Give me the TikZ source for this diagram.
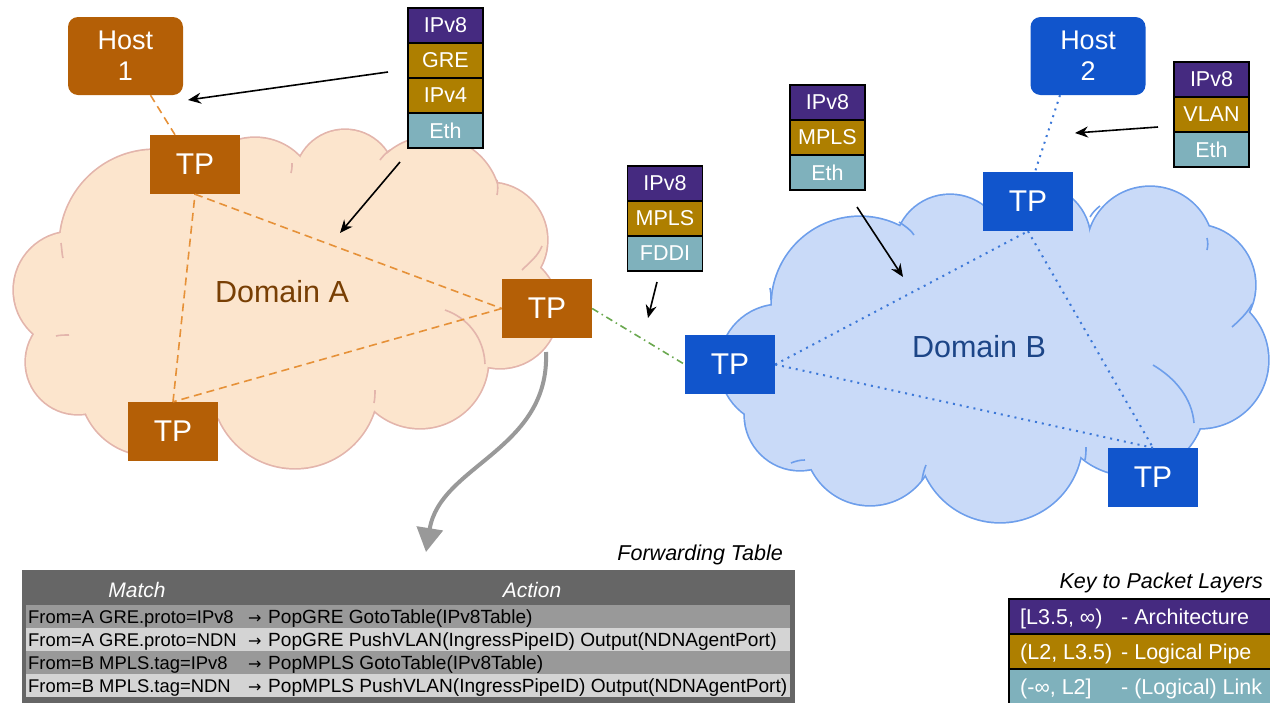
\documentclass[tikz,border=0pt]{standalone}
\usepackage{fontspec}
\setmainfont{Liberation Sans}
\newfontfamily\symfont{DejaVu Sans}
\usetikzlibrary{arrows.meta}
\definecolor{tpA}{HTML}{B45F06}
\definecolor{tpB}{HTML}{1155CC}
\definecolor{cloudAfill}{HTML}{FCE5CD}
\definecolor{cloudAline}{HTML}{E3B5AC}
\definecolor{cloudBfill}{HTML}{C9DAF8}
\definecolor{cloudBline}{HTML}{6D9EEB}
\definecolor{lnA}{HTML}{E69138}
\definecolor{lnB}{HTML}{3C78D8}
\definecolor{lnG}{HTML}{6AA84F}
\definecolor{domA}{HTML}{783F04}
\definecolor{domB}{HTML}{1C4587}
\definecolor{purp}{HTML}{452A80}
\definecolor{gold}{HTML}{AE7F00}
\definecolor{teal}{HTML}{7FB1BC}
\definecolor{tblDark}{HTML}{666666}
\definecolor{tblMid}{HTML}{999999}
\definecolor{tblLight}{HTML}{D4D4D4}
\newcommand\pxfont[1]{\fontsize{#1}{#1}\selectfont}
\def\puffsA{72/290/58, 78/362/52, 155/245/95, 255/200/62, 345/180/50, 432/205/68, 490/240/57, 500/310/58, 420/360/68, 295/385/83, 150/385/70, 290/290/130, 200/320/100, 400/280/100}
\def\puffsB{780/365/60, 800/415/55, 870/440/65, 1000/440/82, 1130/400/75, 1200/360/68, 1195/285/60, 1150/250/63, 1035/240/55, 950/250/55, 860/305/88, 1000/350/130, 900/380/90, 1100/350/100}
\begin{document}
\begin{tikzpicture}[x=1pt,y=-1pt,
  tpa/.style={fill=tpA, text=white, minimum width=90, minimum height=59, inner sep=0, font=\pxfont{30}},
  tpb/.style={tpa, fill=tpB},
  hostbox/.style={rounded corners=10, minimum width=115, minimum height=78, inner sep=0, text=white, align=center, font=\fontsize{27}{31}\selectfont},
  cell/.style={draw=black, line width=1.5, minimum width=75, minimum height=35, inner sep=0, text=white, font=\pxfont{21.5}},
  dA/.style={lnA, line width=1.6, dash pattern=on 8pt off 5pt},
  dB/.style={lnB, line width=2, dash pattern=on 2pt off 5pt},
  dG/.style={lnG, line width=1.6, dash pattern=on 7pt off 4pt on 1.5pt off 4pt},
  ptr/.style={black, line width=1.6, -{Stealth[length=13pt,width=11pt]}},
  domlabel/.style={font=\pxfont{30.5}},
  innerA/.style={cloudAline, line width=1.6},
  innerB/.style={cloudBline, line width=1.6},
  matchtxt/.style={anchor=base west, inner sep=0, font=\pxfont{18.4}},
  acttxt/.style={anchor=base west, inner sep=0, font=\pxfont{19.1}},
  arrtxt/.style={anchor=base west, inner sep=0, font=\symfont\pxfont{16}},
  keytxt/.style={anchor=base west, inner sep=0, text=white, font=\pxfont{21.5}},
  keyrow/.style={draw=black, line width=2.2}
]
\useasboundingbox (0,0) rectangle (1270,702);
% clouds
\foreach \x/\y/\r in \puffsA { \draw[cloudAline, line width=3.4] (\x,\y) circle[radius=\r pt]; }
\foreach \x/\y/\r in \puffsA { \fill[cloudAfill] (\x,\y) circle[radius=\r pt]; }
\foreach \x/\y/\r in \puffsB { \draw[cloudBline, line width=3.4] (\x,\y) circle[radius=\r pt]; }
\foreach \x/\y/\r in \puffsB { \fill[cloudBfill] (\x,\y) circle[radius=\r pt]; }
% inner puff arcs
\draw[innerA] (445,310) .. controls (468,318) and (484,338) .. (485,364);
\draw[innerA] (522,270) .. controls (530,262) and (538,256) .. (542,246);
\draw[innerA] (497,180) .. controls (498,186) and (498,190) .. (497,195);
\draw[innerA] (380,160) .. controls (383,156) and (386,153) .. (390,150);
\draw[innerA] (292,163) .. controls (292,168) and (292,170) .. (291,173);
\draw[innerA] (61,243) .. controls (62,250) and (62,255) .. (63,258);
\draw[innerA] (69,335) .. controls (64,335) and (60,335) .. (56,336);
\draw[innerA] (374,403) .. controls (375,398) and (375,394) .. (375,390);
\draw[innerB] (1153,365) .. controls (1175,378) and (1192,398) .. (1194,423);
\draw[innerB] (1232,327) .. controls (1240,320) and (1248,312) .. (1252,304);
\draw[innerB] (1207,238) .. controls (1208,242) and (1208,246) .. (1207,250);
\draw[innerB] (1090,217) .. controls (1093,212) and (1096,209) .. (1100,206);
\draw[innerB] (914,235) .. controls (911,230) and (905,226) .. (899,222);
\draw[innerB] (771,300) .. controls (771,295) and (771,292) .. (770,288);
\draw[innerB] (805,460) .. controls (800,460) and (796,461) .. (791,463);
\draw[innerB] (922,480) .. controls (923,474) and (924,470) .. (926,465);
\draw[innerB] (1085,460) .. controls (1086,455) and (1086,451) .. (1086,447);
\node[domlabel, text=domA] (domA) at (282,292) {Domain A};
\node[domlabel, text=domB] (domB) at (979,347) {Domain B};
% hosts
\node[hostbox, fill=tpA] (host1) at (125.5,56) {Host\\1};
\node[hostbox, fill=tpB] (host2) at (1088,56) {Host\\2};
% TPs
\node[tpa] (tpa1) at (195,164.5) {TP};
\node[tpa] (tpa2) at (547,308.5) {TP};
\node[tpa] (tpa3) at (173,431.5) {TP};
\node[tpb] (tpb1) at (730,364.5) {TP};
\node[tpb] (tpb2) at (1028,201.5) {TP};
\node[tpb] (tpb3) at (1153,477.5) {TP};
% links
\draw[dA] (tpa1.south) -- (tpa2.west);
\draw[dA] (tpa2.west) -- (tpa3.north);
\draw[dA] (tpa3.north) -- (tpa1.south);
\coordinate (h1b) at ([xshift=25]host1.south);
\coordinate (t1t) at ([xshift=-20]tpa1.north);
\draw[dA] (h1b) -- (t1t);
\draw[dB] (tpb1.east) -- (tpb2.south);
\draw[dB] (tpb1.east) -- (tpb3.north);
\draw[dB] (tpb2.south) -- (tpb3.north);
\coordinate (h2b) at ([xshift=-28]host2.south);
\coordinate (t2t) at ([xshift=7]tpb2.north);
\draw[dB] (h2b) -- (t2t);
\draw[dG] (tpa2.east) -- (tpb1.west);
% packet stacks
\node[cell, fill=purp] (s1a) at (445.5,25.5) {IPv8};
\node[cell, fill=gold] (s1b) at (445.5,60.5) {GRE};
\node[cell, fill=gold] (s1c) at (445.5,95.5) {IPv4};
\node[cell, fill=teal] (s1d) at (445.5,130.5) {Eth};
\node[cell, fill=purp] (s2a) at (665,183.5) {IPv8};
\node[cell, fill=gold] (s2b) at (665,218.5) {MPLS};
\node[cell, fill=teal] (s2c) at (665,253.5) {FDDI};
\node[cell, fill=purp] (s3a) at (827.5,102.5) {IPv8};
\node[cell, fill=gold] (s3b) at (827.5,137.5) {MPLS};
\node[cell, fill=teal] (s3c) at (827.5,172.5) {Eth};
\node[cell, fill=purp] (s4a) at (1211.5,79.5) {IPv8};
\node[cell, fill=gold] (s4b) at (1211.5,114.5) {VLAN};
\node[cell, fill=teal] (s4c) at (1211.5,149.5) {Eth};
% pointer arrows
\coordinate (p1s) at (388,72); \coordinate (p1e) at (188,100);
\coordinate (p2s) at (400,162); \coordinate (p2e) at (340,233);
\coordinate (p3s) at (657,282); \coordinate (p3e) at (648,318);
\coordinate (p4s) at (857,207); \coordinate (p4e) at (903,277);
\coordinate (p5s) at (1158,127); \coordinate (p5e) at (1075,133);
\draw[ptr] (p1s) -- (p1e);
\draw[ptr] (p2s) -- (p2e);
\draw[ptr] (p3s) -- (p3e);
\draw[ptr] (p4s) -- (p4e);
\draw[ptr] (p5s) -- (p5e);
% big gray arrow
\coordinate (g0) at (546,352);
\coordinate (g1) at (426,552);
\draw[tblMid, line width=4, -{Triangle[length=24pt,width=26pt]}] (g0) .. controls (550,450) and (440,465) .. (g1);
% forwarding table
\node[anchor=base east, inner sep=0, font=\itshape\pxfont{21.5}] (fttitle) at (783,560) {Forwarding Table};
\fill[tblDark] (22,570) rectangle (795,703);
\node[anchor=base, inner sep=0, text=white, font=\itshape\pxfont{21}] (hmatch) at (137,597) {Match};
\node[anchor=base, inner sep=0, text=white, font=\itshape\pxfont{21}] (haction) at (532,597) {Action};
\fill[tblMid] (26,605) rectangle (790,628);
\fill[tblLight] (26,628) rectangle (790,651);
\fill[tblMid] (26,651) rectangle (790,674);
\fill[tblLight] (26,674) rectangle (790,697);
\node[matchtxt] (r1m) at (28,623) {From=A GRE.proto=IPv8};
\node[arrtxt] (r1x) at (248,623) {→};
\node[acttxt] (r1a) at (268,623) {PopGRE GotoTable(IPv8Table)};
\node[matchtxt] (r2m) at (28,646) {From=A GRE.proto=NDN};
\node[arrtxt] (r2x) at (248,646) {→};
\node[acttxt] (r2a) at (268,646) {PopGRE PushVLAN(IngressPipeID) Output(NDNAgentPort)};
\node[matchtxt] (r3m) at (28,669) {From=B MPLS.tag=IPv8};
\node[arrtxt] (r3x) at (248,669) {→};
\node[acttxt] (r3a) at (268,669) {PopMPLS GotoTable(IPv8Table)};
\node[matchtxt] (r4m) at (28,692) {From=B MPLS.tag=NDN};
\node[arrtxt] (r4x) at (248,692) {→};
\node[acttxt] (r4a) at (268,692) {PopMPLS PushVLAN(IngressPipeID) Output(NDNAgentPort)};
% key
\node[anchor=base east, inner sep=0, font=\itshape\pxfont{21.5}] (keytitle) at (1263,588) {Key to Packet Layers};
\draw[keyrow, fill=purp] (1009,599) rectangle (1275,634);
\draw[keyrow, fill=gold] (1009,634) rectangle (1275,669);
\draw[keyrow, fill=teal] (1009,669) rectangle (1275,706);
\node[keytxt] (k1a) at (1020,624) {[L3.5, ∞)};
\node[keytxt] (k1b) at (1121,624) {- Architecture};
\node[keytxt] (k2a) at (1020,659) {(L2, L3.5)};
\node[keytxt] (k2b) at (1121,659) {- Logical Pipe};
\node[keytxt] (k3a) at (1020,694) {(-∞, L2]};
\node[keytxt] (k3b) at (1121,694) {- (Logical) Link};
\end{tikzpicture}
\end{document}
